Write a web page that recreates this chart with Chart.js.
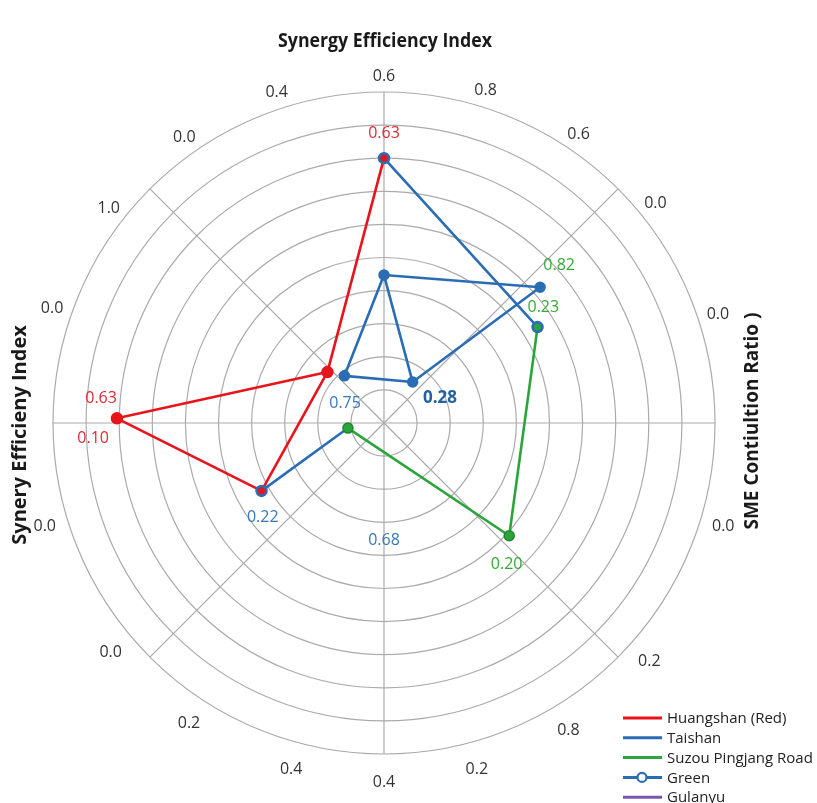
<!DOCTYPE html>
<html>
<head>
<meta charset="utf-8">
<script src="https://cdn.jsdelivr.net/npm/chart.js@4.4.1/dist/chart.umd.min.js"></script>
<style>
  body { margin: 0; background: #fff; }
  canvas { display: block; }
</style>
</head>
<body>
<canvas id="myChart" width="817" height="803"></canvas>
<script>
// angles in degrees (clockwise from top), values on the 0-10 ring scale
const ringTickAngles = [0, 17, 34, 51, 72, 107, 132, 149, 165, 180, 195, 213, 230, 253, 289, 308, 325, 342];
const ringTickLabels = ['0.6', '0.8', '0.6', '0.0', '0.0', '0.0', '0.2', '0.8', '0.2', '0.4', '0.4', '0.2', '0.0', '0.0', '0.0', '1.0', '0.0', '0.4'];
const spokeAngles = [0, 45, 90, 135, 180, 225, 270, 315];

// line paths, in drawing order
const huangshanPath = [[0, 8.0], [312, 2.3], [271, 8.07], [241, 4.23], [312, 2.3]];
const taishanPaths = [
    [[0, 8.0], [58, 5.47]],
    [[320, 1.86], [0, 4.47], [49, 6.25], [35, 1.51], [320, 1.86]],
    [[0, 4.47], [35, 1.51]],
    [[241, 4.23], [262, 1.1]]
];
const suzouPath = [[58, 5.47], [132, 5.09], [262, 1.1]];

// point markers
const huangshanMarks = [[312, 2.3], [271, 8.07]];
const huangshanInner = [[0, 8.0], [241, 4.23]];
const taishanMarks = [[0, 4.47], [49, 6.25], [35, 1.51], [320, 1.86]];
const taishanRings = [[0, 8.0], [241, 4.23], [58, 5.47]];
const suzouMarks = [[132, 5.09], [262, 1.1]];
const suzouInner = [[58, 5.47]];

// value annotations
const valueTexts = ['0.63', '0.82', '0.23', '0.28', '0.75', '0.63', '0.10', '0.22', '0.68', '0.20'];
const valueAngles = [0, 48, 54, 66, 297, 275, 267, 232, 180, 139];
const valueRadii = [8.76, 7.12, 5.95, 1.85, 1.32, 8.58, 8.8, 4.65, 3.56, 5.65];
const valueSeries = ['red', 'green', 'green', 'blueBold', 'blue', 'red', 'red', 'blue', 'blue', 'green'];

const legendNames = ['Huangshan (Red)', 'Taishan', 'Suzou Pingjang Road', 'Green', 'Gulanyu'];

const RED = '#e8141c';
const BLUE = '#2a6db5';
const GREEN = '#2ba53b';
const PURPLE = '#7d52b0';
const legendColors = [RED, BLUE, GREEN, BLUE, PURPLE];
const textColors = { red: '#e02a30', green: '#35a936', blue: '#3678b8', blueBold: '#23619f' };

const N = 360;
const angleLabels = Array.from({ length: N }, (_, i) => i + '°');

function toData(points) {
    const arr = new Array(N).fill(null);
    points.forEach(p => { arr[p[0]] = p[1]; });
    return arr;
}

function pathSegments(path, color) {
    const list = [];
    for (let i = 0; i < path.length - 1; i++) {
        list.push({
            data: toData([path[i], path[i + 1]]),
            borderColor: color,
            borderWidth: 2.6,
            pointRadius: 0,
            fill: false,
            spanGaps: true,
            order: 10
        });
    }
    return list;
}

function markers(points, color, radius, border, order) {
    return {
        data: toData(points),
        showLine: false,
        pointRadius: radius,
        pointBackgroundColor: color,
        pointBorderColor: border,
        pointBorderWidth: 1.5,
        fill: false,
        order: order
    };
}

let datasets = [];
datasets = datasets.concat(pathSegments(huangshanPath, RED));
taishanPaths.forEach(p => { datasets = datasets.concat(pathSegments(p, BLUE)); });
datasets = datasets.concat(pathSegments(suzouPath, GREEN));
datasets.push(markers(taishanRings, BLUE, 5.5, BLUE, 3));
datasets.push(markers(taishanMarks, BLUE, 5, BLUE, 3));
datasets.push(markers(huangshanMarks, RED, 5.5, RED, 2));
datasets.push(markers(suzouMarks, GREEN, 5, '#1c8a2c', 2));
datasets.push(markers(huangshanInner, RED, 2.8, RED, 0));
datasets.push(markers(suzouInner, GREEN, 2.8, GREEN, 0));

const FONT = '"Open Sans", "DejaVu Sans", sans-serif';

function drawSqueezed(ctx, text, x, y, rot, width) {
    ctx.save();
    ctx.translate(x, y);
    ctx.rotate(rot);
    const m = ctx.measureText(text).width;
    ctx.scale(Math.min(1, width / m), 1);
    ctx.fillText(text, 0, 0);
    ctx.restore();
}

const textPlugin = {
    id: 'textPlugin',
    afterDraw(chart) {
        const ctx = chart.ctx;
        const r = chart.scales.r;
        ctx.save();
        ctx.textAlign = 'center';
        ctx.textBaseline = 'middle';

        // labels round the outer ring
        ctx.font = '16px ' + FONT;
        ctx.fillStyle = '#333';
        ringTickAngles.forEach((a, i) => {
            const d = r.drawingArea + 22 - 6 * Math.cos(a * Math.PI / 180);
            const pos = r.getPointPosition(a, d);
            ctx.fillText(ringTickLabels[i], pos.x, pos.y);
        });

        // value annotations
        valueTexts.forEach((t, i) => {
            const pos = r.getPointPosition(valueAngles[i], r.getDistanceFromCenterForValue(valueRadii[i]));
            ctx.font = (valueSeries[i] === 'blueBold' ? 'bold 17px ' : '16px ') + FONT;
            ctx.fillStyle = textColors[valueSeries[i]];
            ctx.fillText(t, pos.x, pos.y);
        });

        // axis titles
        ctx.font = 'bold 20px ' + FONT;
        ctx.fillStyle = '#1a1a1a';
        drawSqueezed(ctx, 'Synergy Efficiency Index', 385, 41, 0, 214);
        drawSqueezed(ctx, 'Synery Efficieny Index', 20, 435, -Math.PI / 2, 224);
        drawSqueezed(ctx, 'SME Contiultion Ratio )', 752, 421, -Math.PI / 2, 217);

        // legend
        ctx.font = '15px ' + FONT;
        ctx.textAlign = 'left';
        legendNames.forEach((name, i) => {
            const y = 718 + i * 19.8;
            ctx.strokeStyle = legendColors[i];
            ctx.lineWidth = 3;
            ctx.beginPath();
            ctx.moveTo(623, y);
            ctx.lineTo(662, y);
            ctx.stroke();
            if (name === 'Green') {
                ctx.beginPath();
                ctx.arc(642, y, 4.5, 0, Math.PI * 2);
                ctx.fillStyle = '#fff';
                ctx.fill();
                ctx.lineWidth = 2.2;
                ctx.stroke();
            }
            ctx.fillStyle = '#222';
            ctx.fillText(name, 667, y + 1);
        });
        ctx.restore();
    }
};

new Chart(document.getElementById('myChart'), {
    type: 'radar',
    data: {
        labels: angleLabels,
        datasets: datasets
    },
    options: {
        responsive: false,
        animation: false,
        layout: { padding: { left: 53, top: 92, right: 102, bottom: 49 } },
        plugins: {
            legend: { display: false },
            title: { display: false },
            tooltip: { enabled: false }
        },
        elements: { line: { tension: 0 } },
        scales: {
            r: {
                min: 0,
                max: 10,
                ticks: { display: false, stepSize: 1 },
                grid: { circular: true, color: '#ababab', lineWidth: 1.2 },
                angleLines: {
                    color: '#ababab',
                    lineWidth: ctx => spokeAngles.includes(ctx.index) ? 1.2 : 0
                },
                pointLabels: { display: false }
            }
        }
    },
    plugins: [textPlugin]
});
</script>
</body>
</html>
